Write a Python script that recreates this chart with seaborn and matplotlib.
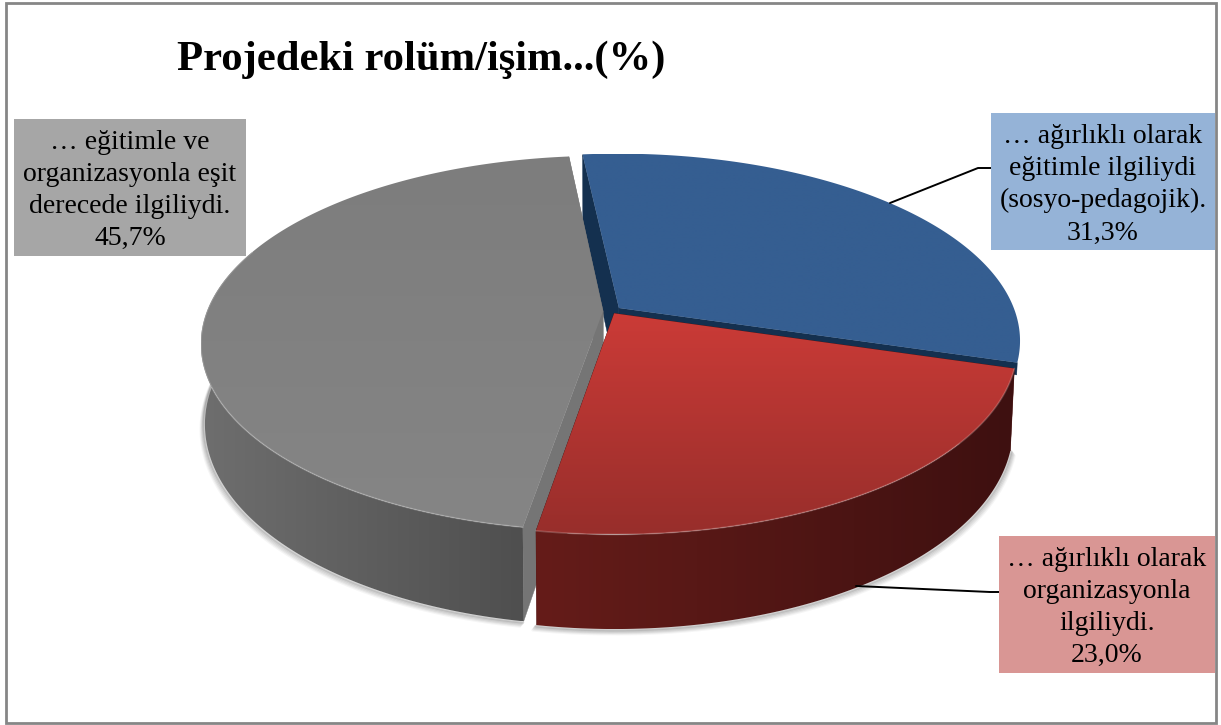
import numpy as np
import matplotlib
matplotlib.use("Agg")
import matplotlib.pyplot as plt
from matplotlib.patches import Polygon, Rectangle
import seaborn as sns

# Data
shares = [31.3, 23.0, 45.7]
labels = ["… ağırlıklı olarak\neğitimle ilgiliydi\n(sosyo-pedagojik).\n31,3%",
          "… ağırlıklı olarak\norganizasyonla\nilgiliydi.\n23,0%",
          "… eğitimle ve\norganizasyonla eşit\nderecede ilgiliydi.\n45,7%"]
chart_title = "Projedeki rolüm/işim...(%)"
explode = [0.026, 0.015, 0.02]
box_colors = ["#95B3D7", "#D99694", "#A6A6A6"]
top_colors = [("#355E91", "#355E91"), ("#CB3B37", "#982E2B"), ("#7D7D7D", "#858585")]
wall_colors = [("#1F3A5C", "#14304F"), ("#651C19", "#3E1010"), ("#6E6E6E", "#4F4F4F")]
cut_colors = ["#14304F", "#4A1311", "#757575"]

sns.set_style("white")
plt.rcParams["font.family"] = ["Liberation Serif", "DejaVu Serif"]

# pie geometry in pixels
CX, CY = 611, 311
A, B, K = 396, 182, 0.173
DEPTH = 78
BASE_SCALE = 0.99
START = -6.0


def project(x, y, z=0.0):
    # simple perspective, the near edge (y<0) gets bigger
    w = 1 + K * y
    sc = 1 - (1 - BASE_SCALE) * z
    return CX + A * sc * x / w, CY + (-B * y + DEPTH * z) / w


fig = plt.figure(figsize=(12.21, 7.25), dpi=100)
ax = fig.add_axes([0, 0, 1, 1])
ax.set_xlim(0, 1221)
ax.set_ylim(725, 0)
ax.axis("off")

# figure frame
ax.add_patch(Rectangle((6, 2.5), 1210, 720.5, fill=False, ec="#868686", lw=2))

# slice angles from the shares, clockwise from the top
edges = START + np.cumsum([0] + shares) * 3.6
slices = []
for i in range(3):
    mid = np.radians((edges[i] + edges[i + 1]) / 2)
    slices.append({"t0": edges[i], "t1": edges[i + 1],
                   "dx": explode[i] * np.sin(mid), "dy": explode[i] * np.cos(mid)})


def gradient_fill(outline, colors, vertical, z):
    # fill a polygon with a gradient, imshow clipped to the outline
    patch = Polygon(outline, fc="none", ec="none")
    ax.add_patch(patch)
    ramp = np.array(sns.blend_palette(colors, 64))[:, :3]
    grad = ramp.reshape(64, 1, 3) if vertical else ramp.reshape(1, 64, 3)
    im = ax.imshow(grad, extent=(outline[:, 0].min(), outline[:, 0].max(),
                                 outline[:, 1].max(), outline[:, 1].min()),
                   aspect="auto", zorder=z, interpolation="bilinear")
    im.set_clip_path(patch)


def draw_slice(i, base):
    s = slices[i]
    t = np.radians(np.linspace(s["t0"], s["t1"], 240))
    ux = np.sin(t) + s["dx"]
    uy = np.cos(t) + s["dy"]

    # radial cut walls, the blue one on the right only shows as a thin band
    for n, (ex, ey) in enumerate([(ux[0], uy[0]), (ux[-1], uy[-1])]):
        depth = 0.15 if (i == 0 and n == 1) else 1
        pts = [project(s["dx"], s["dy"]), project(ex, ey),
               project(ex, ey, depth), project(s["dx"], s["dy"], depth)]
        ax.add_patch(Polygon(pts, fc=cut_colors[i], ec=cut_colors[i], lw=0.3, zorder=base))

    bx, by = project(ux, uy, 1)
    tx, ty = project(ux, uy)
    front = np.where(np.cos(t) < 0.35)[0]
    if i == 0:
        front = front[:0]  # blue outer wall is hidden behind the red slice
    if len(front) > 1:
        # soft shadow under the wall
        side = np.sign(bx[front] - CX)
        for off, alpha in [(5, 0.07), (4, 0.10), (3, 0.15), (2, 0.2), (1, 0.3)]:
            ax.plot(bx[front] + off * side * 0.8, by[front] + off, color="#777777", alpha=alpha, lw=2, zorder=1)
        wall = np.column_stack([np.r_[tx[front], bx[front][::-1]], np.r_[ty[front], by[front][::-1]]])
        gradient_fill(wall, wall_colors[i], False, base + 0.1)

    # top face with a vertical gradient
    cx0, cy0 = project(s["dx"], s["dy"])
    outline = np.column_stack([np.r_[cx0, tx], np.r_[cy0, ty]])
    gradient_fill(outline, top_colors[i], True, base + 0.2)
    # light rim along the near edge
    if len(front) > 1:
        ax.plot(tx[front], ty[front], color="white", alpha=0.2, lw=1.2, zorder=base + 0.3)


# back to front: blue, gray, red
for base, idx in enumerate([0, 2, 1]):
    draw_slice(idx, base + 2)
ax.set_xlim(0, 1221)
ax.set_ylim(725, 0)

# leader lines
ax.plot([890, 978, 991], [203, 168, 168], color="black", lw=1.4, zorder=6)
ax.plot([856, 990, 999], [586, 592, 592], color="black", lw=1.4, zorder=6)

# label boxes
boxes = [(991, 113, 224, 137), (999, 536, 216, 137), (14, 119, 232, 137)]
for i, (bx, by, bw, bh) in enumerate(boxes):
    ax.add_patch(Rectangle((bx, by), bw, bh, fc=box_colors[i], ec="none", zorder=7))
    ax.text(bx + bw / 2, by + bh / 2 + 3, labels[i], ha="center", va="center",
            fontsize=20, linespacing=1.38, color="black", zorder=8)

ax.text(421, 60, chart_title, ha="center", va="center", fontsize=30.7, fontweight="bold", color="black", zorder=8)

fig.savefig("out.png", dpi=100)
